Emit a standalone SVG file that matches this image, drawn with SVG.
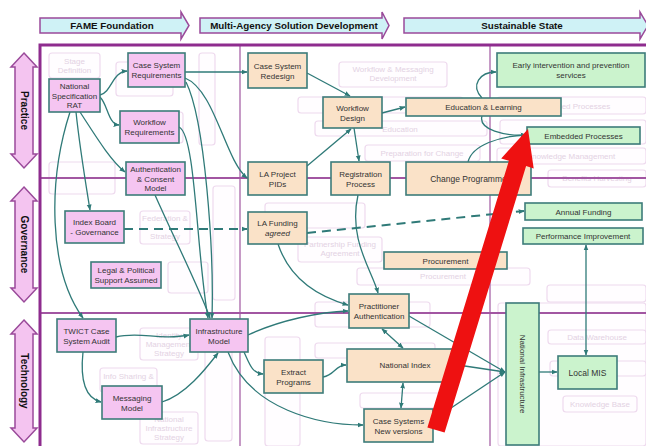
<svg xmlns="http://www.w3.org/2000/svg" width="646" height="446" viewBox="0 0 646 446">
<defs>
<style>
text{font-family:"Liberation Sans",Arial,sans-serif;font-size:8px;fill:#333;text-anchor:middle}
.hd{font-weight:bold;font-size:9.8px;fill:#111}
.side{font-weight:bold;font-size:10px;fill:#111}
.harrow{fill:#cff2f6;stroke:#9a4a9a;stroke-width:1.5}
.varrow{fill:#f4c4f0;stroke:#9a4a9a;stroke-width:1.5}
.pk rect{fill:#f5c5f1;stroke:#3d7c7a;stroke-width:1.6}
.bg rect{fill:#fae2c8;stroke:#3d7c7a;stroke-width:1.6}
.gn rect{fill:#cbf3cd;stroke:#3d7c7a;stroke-width:1.6}
.ghost rect{fill:#fffdff;stroke:#eedaee;stroke-width:1.2}
.ghost text{fill:#e3d2e3}
.lane{stroke:#a256a2;stroke-width:2;fill:none}
.col{stroke:#b47ab4;stroke-width:1.5;fill:none}
#connectors path{fill:none;stroke:#2f7a78;stroke-width:1.3}
#connectors .dash{stroke-width:2;stroke-dasharray:9 6}
</style>
<marker id="ah" viewBox="0 0 10 10" refX="9" refY="5" markerWidth="6" markerHeight="6" orient="auto-start-reverse" markerUnits="userSpaceOnUse">
<path d="M0,1 L10,5 L0,9 Z" fill="#2f7a78"/>
</marker>
</defs>
<rect width="646" height="446" fill="#ffffff"/>

<!-- header arrows -->
<g id="hdr-fame"><polygon class="harrow" points="40,18 181,18 181,12 189,25.5 181,39 181,33 40,33"/><text class="hd" x="112" y="29">FAME Foundation</text></g>
<g id="hdr-multi"><polygon class="harrow" points="200,18 382,18 382,12 389,25.5 382,39 382,33 200,33"/><text class="hd" x="294" y="29">Multi-Agency Solution Development</text></g>
<g id="hdr-sust"><polygon class="harrow" points="404,18 640,18 640,12 648,25.5 640,39 640,33 404,33"/><text class="hd" x="522" y="29">Sustainable State</text></g>

<!-- side arrows -->
<g id="side-practice"><polygon class="varrow" points="24,53 37,67 33,67 33,154 37,154 24,168 11,154 15,154 15,67 11,67"/><text class="side" transform="translate(20.5,110.5) rotate(90)">Practice</text></g>
<g id="side-gov"><polygon class="varrow" points="24,187 37,201 33,201 33,288 37,288 24,302 11,288 15,288 15,201 11,201"/><text class="side" transform="translate(20.5,244.5) rotate(90)">Governance</text></g>
<g id="side-tech"><polygon class="varrow" points="24,320 37,334 33,334 33,428 37,428 24,442 11,428 15,428 15,334 11,334"/><text class="side" transform="translate(20.5,381) rotate(90)">Technology</text></g>

<!-- ghost background boxes -->
<g class="ghost">
<rect x="49" y="53" width="51" height="25" rx="3"/><text x="74.5" y="64">Stage</text><text x="74.5" y="73">Definition</text>
<rect x="116" y="62" width="57" height="34" rx="3"/>
<rect x="199" y="53" width="16" height="92" rx="3"/>
<rect x="150" y="112" width="33" height="31" rx="3"/>
<rect x="49" y="162" width="66" height="32" rx="3"/>
<rect x="140" y="211" width="50" height="33" rx="3"/><text x="165" y="221">Federation &amp;</text><text x="165" y="239">Strategy</text>
<rect x="168" y="262" width="40" height="31" rx="3"/>
<rect x="213" y="186" width="22" height="114" rx="3"/>
<rect x="140" y="328" width="58" height="32" rx="3"/><text x="169" y="338">Identity</text><text x="169" y="347">Management</text><text x="169" y="356">Strategy</text>
<rect x="100" y="368" width="57" height="24" rx="3"/><text x="128.5" y="379">Info Sharing &amp;</text>
<rect x="140" y="412" width="58" height="32" rx="3"/><text x="169" y="422">National</text><text x="169" y="431">Infrastructure</text><text x="169" y="440">Strategy</text>
<rect x="205" y="325" width="27" height="116" rx="3"/>
<rect x="339" y="62" width="108" height="25" rx="3"/><text x="393" y="72">Workflow &amp; Messaging</text><text x="393" y="81">Development</text>
<rect x="298" y="97" width="165" height="16" rx="3"/>
<rect x="315" y="121" width="172" height="15" rx="3"/><text x="400" y="131.5">Education</text>
<rect x="365" y="145" width="115" height="16" rx="3"/><text x="422" y="155.5">Preparation for Change</text>
<rect x="265" y="203" width="100" height="25" rx="3"/>
<rect x="298" y="237" width="84" height="25" rx="3"/><text x="340" y="247">Partnership Funding</text><text x="340" y="256">Agreement</text>
<rect x="357" y="268" width="173" height="17" rx="3"/><text x="443" y="279">Procurement</text>
<rect x="315" y="302" width="115" height="25" rx="3"/>
<rect x="315" y="343" width="120" height="15" rx="3"/>
<rect x="265" y="337" width="35" height="109" rx="3"/>
<rect x="360" y="393" width="85" height="15" rx="3"/>
<rect x="497" y="97" width="149" height="17" rx="3"/><text x="571" y="108.5">Embedded Processes</text>
<rect x="500" y="120" width="146" height="24" rx="3"/>
<rect x="497" y="148" width="149" height="16" rx="3"/><text x="571" y="159">Knowledge Management</text>
<rect x="548" y="170" width="98" height="17" rx="3"/><text x="597" y="181">Benefits Harvesting</text>
<rect x="547" y="285" width="99" height="17" rx="3"/>
<rect x="498" y="303" width="148" height="143" rx="3"/>
<rect x="548" y="330" width="98" height="14" rx="3"/><text x="597" y="340">Data Warehouse</text>
<rect x="550" y="361" width="96" height="15" rx="3"/>
<rect x="563" y="396" width="74" height="16" rx="3"/><text x="600" y="407">Knowledge Base</text>
</g>

<!-- frame and lanes -->
<g id="frame">
<path class="col" d="M240,44 V446 M490,44 V446"/>
<path class="lane" d="M40,178 H646 M40,313 H646"/>
<path d="M40,446 V45 H646" fill="none" stroke="#8e2c8e" stroke-width="3"/>
</g>

<!-- connectors -->
<g id="connectors">
<path d="M100,95 C112,92 112,72 127,71" marker-end="url(#ah)"/>
<path d="M100,97 C108,105 108,124 119,125" marker-end="url(#ah)"/>
<path d="M76,112 C80,150 86,185 90,210" marker-end="url(#ah)"/>
<path d="M70,112 C48,180 48,270 83,318" marker-end="url(#ah)"/>
<path d="M80,112 C95,135 110,160 125,172" marker-end="url(#ah)"/>
<path d="M185,72 L247,72" marker-end="url(#ah)"/>
<path d="M185,78 C215,90 225,160 247,178" marker-end="url(#ah)"/>
<path d="M186,82 C205,120 214,250 212,318" marker-end="url(#ah)"/>
<path d="M179,127 C196,135 196,250 208,318" marker-end="url(#ah)"/>
<path d="M155,195 C175,240 200,290 210,318" marker-end="url(#ah)"/>
<path d="M307,73 L350,96" marker-end="url(#ah)"/>
<path d="M307,166 L351,129" marker-end="url(#ah)"/>
<path d="M354,128 L359,161" marker-end="url(#ah)"/>
<path d="M382,113 L405,107" marker-end="url(#ah)"/>
<path d="M482,98 C470,85 480,72 496,72" marker-end="url(#ah)"/>
<path d="M482,116 C478,130 505,136 526,135" marker-end="url(#ah)"/>
<path d="M468,162 C472,145 500,136 526,135" marker-end="url(#ah)"/>
<path d="M358,195 C348,240 372,270 378,293" marker-end="url(#ah)"/>
<path d="M278,244 C290,280 320,297 348,305" marker-end="url(#ah)"/>
<path d="M248,335 C280,320 320,312 348,311" marker-end="url(#ah)"/>
<path class="dash" d="M124,229 L247,229" marker-end="url(#ah)"/>
<path class="dash" d="M307,233 L524,211" marker-end="url(#ah)"/>
<path d="M116,337 C140,331 160,341 189,335" marker-end="url(#ah)"/>
<path d="M83,352 C80,380 85,398 101,402" marker-end="url(#ah)"/>
<path d="M162,402 C185,395 205,370 218,353" marker-end="url(#ah)"/>
<path d="M244,352 C250,365 252,373 263,374" marker-end="url(#ah)"/>
<path d="M228,352 C250,410 320,425 363,425" marker-end="url(#ah)"/>
<path d="M323,377 C335,375 335,365 346,365" marker-end="url(#ah)"/>
<path d="M403,348 L382,329" marker-start="url(#ah)" marker-end="url(#ah)"/>
<path d="M401,408 L403,383" marker-start="url(#ah)" marker-end="url(#ah)"/>
<path d="M409,316 L505,372" marker-end="url(#ah)"/>
<path d="M458,365 L505,372" marker-end="url(#ah)"/>
<path d="M433,420 L505,372" marker-end="url(#ah)"/>
<path d="M539,372 L557,372" marker-end="url(#ah)"/>
<path d="M586,245 L586,355" marker-start="url(#ah)" marker-end="url(#ah)"/>
</g>

<!-- FAME nodes -->
<g id="n-rat" class="pk"><rect x="49" y="79" width="51" height="33"/><text x="74.5" y="89">National</text><text x="74.5" y="98.5">Specification</text><text x="74.5" y="108">RAT</text></g>
<g id="n-csr" class="pk"><rect x="128" y="53" width="57" height="34"/><text x="156.5" y="68">Case System</text><text x="156.5" y="78">Requirements</text></g>
<g id="n-wr" class="pk"><rect x="120" y="111" width="59" height="32"/><text x="149.5" y="125">Workflow</text><text x="149.5" y="135">Requirements</text></g>
<g id="n-auth" class="pk"><rect x="126" y="162" width="59" height="33"/><text x="155.5" y="172">Authentication</text><text x="155.5" y="181.5">&amp; Consent</text><text x="155.5" y="191">Model</text></g>
<g id="n-index" class="pk"><rect x="65" y="211" width="59" height="32"/><text x="94.5" y="225">Index Board</text><text x="94.5" y="235">- Governance</text></g>
<g id="n-legal" class="pk"><rect x="91" y="262" width="70" height="26"/><text x="126" y="273">Legal &amp; Political</text><text x="126" y="283">Support Assumed</text></g>
<g id="n-twict" class="pk"><rect x="57" y="319" width="59" height="33"/><text x="86.5" y="333.5">TWICT Case</text><text x="86.5" y="343.5">System Audit</text></g>
<g id="n-msg" class="pk"><rect x="102" y="386" width="60" height="33"/><text x="132" y="400.5">Messaging</text><text x="132" y="410.5">Model</text></g>
<g id="n-infra" class="pk"><rect x="190" y="319" width="58" height="33"/><text x="219" y="333.5">Infrastructure</text><text x="219" y="343.5">Model</text></g>

<!-- Multi-agency nodes -->
<g id="n-csrd" class="bg"><rect x="248" y="53" width="59" height="35"/><text x="277.5" y="68.5">Case System</text><text x="277.5" y="78.5">Redesign</text></g>
<g id="n-wd" class="bg"><rect x="323" y="97" width="59" height="31"/><text x="352.5" y="110.5">Workflow</text><text x="352.5" y="120.5">Design</text></g>
<g id="n-el" class="bg"><rect x="406" y="98" width="155" height="18"/><text x="483.5" y="110">Education &amp; Learning</text></g>
<g id="n-lap" class="bg"><rect x="248" y="162" width="59" height="33"/><text x="277.5" y="176.5">LA Project</text><text x="277.5" y="186.5">PIDs</text></g>
<g id="n-reg" class="bg"><rect x="331" y="162" width="59" height="33"/><text x="360.5" y="176.5">Registration</text><text x="360.5" y="186.5">Process</text></g>
<g id="n-change" class="bg"><rect x="406" y="162" width="125" height="33"/><text x="468.5" y="181.5" style="font-size:8.5px">Change Programme</text></g>
<g id="n-laf" class="bg"><rect x="248" y="212" width="59" height="32"/><text x="277.5" y="226">LA Funding</text><text x="277.5" y="236" style="font-style:italic">agreed</text></g>
<g id="n-proc" class="bg"><rect x="384" y="252" width="123" height="17"/><text x="445.5" y="263.5">Procurement</text></g>
<g id="n-prac" class="bg"><rect x="349" y="294" width="60" height="34"/><text x="379" y="309">Practitioner</text><text x="379" y="319">Authentication</text></g>
<g id="n-ni" class="bg"><rect x="347" y="349" width="111" height="33"/><text x="405" y="368">National Index</text></g>
<g id="n-ext" class="bg"><rect x="264" y="360" width="59" height="33"/><text x="293.5" y="374.5">Extract</text><text x="293.5" y="384.5">Programs</text></g>
<g id="n-cs" class="bg"><rect x="364" y="409" width="69" height="33"/><text x="398.5" y="423.5">Case Systems</text><text x="398.5" y="433.5">New versions</text></g>

<!-- Sustainable nodes -->
<g id="n-early" class="gn"><rect x="497" y="53" width="148" height="34"/><text x="571" y="68">Early intervention and prevention</text><text x="571" y="78">services</text></g>
<g id="n-emb" class="gn"><rect x="527" y="127" width="113" height="17"/><text x="583.5" y="138.5">Embedded Processes</text></g>
<g id="n-af" class="gn"><rect x="525" y="203" width="117" height="17"/><text x="583.5" y="214.5">Annual Funding</text></g>
<g id="n-pi" class="gn"><rect x="523" y="228" width="120" height="16"/><text x="583" y="239">Performance Improvement</text></g>
<g id="n-natinf" class="gn"><rect x="506" y="303" width="33" height="142"/><text transform="translate(519.5,374) rotate(90)">National Infrastructure</text></g>
<g id="n-mis" class="gn"><rect x="558" y="356" width="59" height="33"/><text x="587.5" y="375.5" style="font-size:8.5px">Local MIS</text></g>

<!-- red arrow -->
<polygon points="427.4,427.4 508.9,160.8 501.2,158.5 528,129 533.7,168.4 526.1,166.1 444.6,432.6" fill="#ee1111"/>
</svg>
